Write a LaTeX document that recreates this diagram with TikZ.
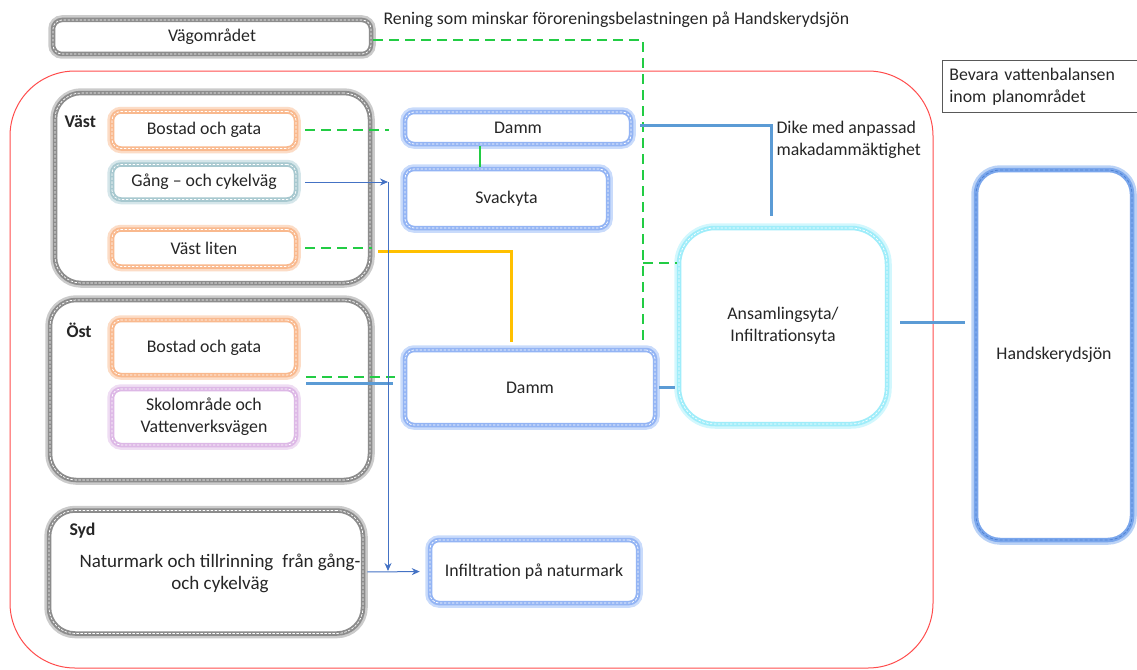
\documentclass[tikz,border=0pt]{standalone}
\usepackage{fontspec}
\setmainfont{Carlito}
\usetikzlibrary{arrows.meta,calc}
\definecolor{txt}{HTML}{262626}
\definecolor{grB}{HTML}{8C8C8C}\definecolor{grG}{HTML}{CBCBCB}
\definecolor{orB}{HTML}{F9B98E}\definecolor{orG}{HTML}{FCDCC6}
\definecolor{teB}{HTML}{A7C8CF}\definecolor{teG}{HTML}{D5E6EA}
\definecolor{puB}{HTML}{DDB8E6}\definecolor{puG}{HTML}{EFDDF3}
\definecolor{lbB}{HTML}{93B4F4}\definecolor{lbG}{HTML}{C9DBFB}
\definecolor{cyB}{HTML}{9FEDFA}\definecolor{cyG}{HTML}{D2F7FD}
\definecolor{hsB}{HTML}{7AA6EC}\definecolor{hsG}{HTML}{BAD2F6}\definecolor{hsD}{HTML}{4F82D2}
\definecolor{gnL}{HTML}{22CC44}
\definecolor{blL}{HTML}{5B9BD5}
\definecolor{blT}{HTML}{4472C4}
\definecolor{yeL}{HTML}{FFC000}
\definecolor{rdL}{HTML}{FF4D4D}
\tikzset{
  gb/.style 2 args={draw=#1, line width=4.5pt, fill=white, rounded corners=9pt, inner sep=0pt, align=center,
     preaction={draw=#2, line width=9.5pt},
     postaction={draw=white, line width=0.7pt, dash pattern=on 2.5pt off 1.5pt}},
  grp/.style={gb={grB}{grG}, rounded corners=26pt},
  hsbox/.style={draw=hsB, line width=4.5pt, fill=white, rounded corners=24pt, inner sep=0pt,
     preaction={draw=hsG, line width=9.5pt},
     postaction={draw=hsD, line width=0.8pt, dash pattern=on 3pt off 2pt}},
  gdash/.style={draw=gnL, line width=2pt, dash pattern=on 10pt off 6pt},
  gsolid/.style={draw=gnL, line width=2pt},
  bline/.style={draw=blL, line width=3pt},
  yline/.style={draw=yeL, line width=3pt},
  tarrow/.style={draw=blT, line width=1pt, -{Stealth[length=8pt,width=7pt]}},
  lbl/.style={font=\fontsize{17.8}{22}\selectfont\bfseries},
}
\begin{document}
\begin{tikzpicture}[x=1pt,y=-1pt, every node/.style={font=\fontsize{17.8}{22}\selectfont, text=txt}]
\useasboundingbox (0,0) rectangle (1137,669);
% boundary
\draw[rdL, line width=1pt, rounded corners=65pt] (10,71) rectangle (933,668);
% top box
\node[gb={grB}{grG}, minimum width=318, minimum height=34] (vag) at (212,37) {Vägområdet};
\node[anchor=west] (rening) at (380,20) {Rening som minskar föroreningsbelastningen på Handskerydsjön};
\node[draw=gray!70!black, line width=0.8pt, anchor=north west, minimum width=198, minimum height=52, text width=184, align=left, inner sep=6pt] (bevara) at (942,60) {Bevara vattenbalansen\\inom planområdet};
% groups
\node[grp, minimum width=315, minimum height=190] (vast) at (212.5,188) {};
\node[grp, minimum width=320, minimum height=180] (ost) at (210,390) {};
\node[grp, minimum width=314, minimum height=123] (syd) at (206,572) {};
\node[lbl, anchor=west] (vastl) at (61,122) {Väst};
\node[lbl, anchor=west] (ostl) at (63,330) {Öst};
\node[lbl, anchor=west] (sydl) at (66,531) {Syd};
\node[align=center, font=\fontsize{19}{22}\selectfont] (sydt) at (220,573) {Naturmark och tillrinning\hspace{0.25em} från gång-\\och cykelväg};
% inner boxes
\node[gb={orB}{orG}, minimum width=184, minimum height=37] (vbo) at (204,130) {Bostad och gata};
\node[gb={teB}{teG}, minimum width=184, minimum height=35] (gang) at (204,182) {Gång – och cykelväg};
\node[gb={orB}{orG}, minimum width=184, minimum height=37] (vliten) at (204,248) {Väst liten};
\node[gb={orB}{orG}, minimum width=184, minimum height=55] (obo) at (204,347.5) {Bostad och gata};
\node[gb={puB}{puG}, minimum width=184, minimum height=56] (skol) at (204,417) {Skolområde och\\Vattenverksvägen};
\node[gb={lbB}{lbG}, minimum width=226, minimum height=32] (damm1) at (518,128) {Damm};
\node[gb={lbB}{lbG}, minimum width=203, minimum height=59] (svack) at (506.5,198.5) {Svackyta};
\node[gb={lbB}{lbG}, minimum width=250, minimum height=75] (damm2) at (530,387.5) {Damm};
\node[gb={cyB}{cyG}, rounded corners=36pt, minimum width=208, minimum height=196] (ansam) at (783,326) {Ansamlingsyta/\\Infiltrationsyta};
\node[gb={lbB}{lbG}, minimum width=208, minimum height=63] (infil) at (534,571.5) {Infiltration på naturmark};
\node[hsbox, minimum width=156, minimum height=370] (handsk) at (1054,355) {Handskerydsjön};
\node[anchor=north west, align=left] (dike) at (773,118) {Dike med anpassad\\makadammäktighet};
% coordinates
\coordinate (gEnd) at (643,342);
\coordinate (gBr) at (643,263);
\coordinate (yEnd) at (511,342);
\coordinate (dEnd) at (771,216);
\coordinate (bc) at (388,182);
\coordinate (bEnd) at (388,571);
% green dashed
\draw[gdash] ([yshift=-3pt]vag.east) -| (gEnd);
\draw[gdash] (gBr) -- (gBr -| ansam.west);
\draw[gdash, shorten <=7pt, shorten >=14pt] (vbo.east) -- (vbo.east -| damm1.west);
\draw[gdash, shorten <=7pt] (vliten.east) -- (vliten.east -| vast.east);
\draw[gdash, shorten <=8pt, shorten >=8pt] (obo.south east) -- (obo.south east -| damm2.west);
% green solid
\draw[gsolid] (damm1.south -| 480,0) -- (svack.north -| 480,0);
% yellow
\draw[yline] ([yshift=-3pt,xshift=6pt]vliten.east -| vast.east) -| (yEnd);
% blue
\draw[bline, shorten <=8pt, shorten >=10pt] ([yshift=3pt]skol.north east) -- ([yshift=3pt]skol.north east -| damm2.west);
\draw[bline, shorten <=2pt, shorten >=2pt] (damm2.east) -- (damm2.east -| ansam.west);
\draw[bline, shorten <=7pt] ([yshift=3pt]damm1.east) -| (dEnd);
\draw[bline, shorten <=11pt, shorten >=9pt] ([yshift=4pt]ansam.east) -- ([yshift=4pt]ansam.east -| handsk.west);
% thin arrows
\draw[tarrow, shorten <=7pt] (gang.east) -- (bc);
\draw[tarrow] (bc) -- (bEnd);
\draw[tarrow, shorten <=2pt, shorten >=8pt] (syd.east) -- (infil.west);
\end{tikzpicture}
\end{document}
